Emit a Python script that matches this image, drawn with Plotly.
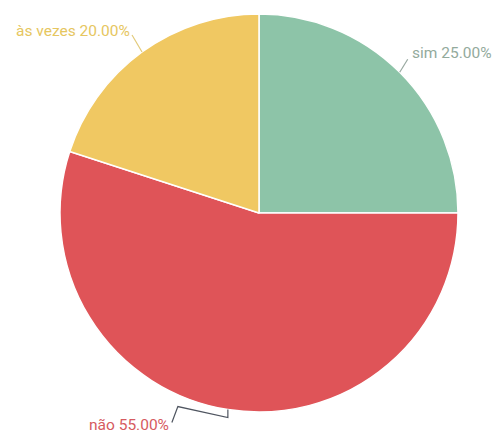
import math
import plotly.graph_objects as go

# Survey answers and their shares (percent)
labels = ["sim", "não", "às vezes"]
values = [25, 55, 20]
colors = ["#8dc4a8", "#df5458", "#f0c862"]
text_colors = ["#93aa9c", "#d65a60", "#e6c660"]
line_colors = ["#98a8a0", "#4f5560", "#e2ca7a"]

W, H = 493, 434
CX, CY, R = 259, 213, 199

# leader-line bends (pixel offsets from the slice's outer midpoint) and label offset from the last bend
leader_bends = [
    [(0, 0), (8, -13)],
    [(0, 0), (0, 8), (-50, -3), (-56, 13)],
    [(0, 0), (-10, -17)],
]
label_offsets = [(2, -6, "left"), (-1, 2, "right"), (0, -4, "right")]


def px(x):
    return x / W


def py(y):
    return 1 - y / H


fig = go.Figure(
    go.Pie(
        labels=labels,
        values=values,
        sort=False,
        direction="clockwise",
        rotation=0,
        marker=dict(colors=colors, line=dict(color="#ffffff", width=1.5)),
        textinfo="none",
        hoverinfo="label+percent",
        showlegend=False,
        domain=dict(x=[px(CX - R), px(CX + R)], y=[py(CY + R), py(CY - R)]),
    )
)

total = sum(values)
cum = 0
shapes, annotations = [], []
for i, (lab, v) in enumerate(zip(labels, values)):
    mid = 2 * math.pi * (cum + v / 2) / total
    cum += v
    ex = CX + R * math.sin(mid)
    ey = CY - R * math.cos(mid)
    pts = [(ex + dx, ey + dy) for dx, dy in leader_bends[i]]
    path = "M " + " L ".join(f"{px(x):.5f},{py(y):.5f}" for x, y in pts)
    shapes.append(dict(type="path", path=path, xref="paper", yref="paper",
                       line=dict(color=line_colors[i], width=1.2)))
    lx, ly = pts[-1]
    ox, oy, anchor = label_offsets[i]
    annotations.append(dict(
        x=px(lx + ox), y=py(ly + oy), xref="paper", yref="paper",
        text=f"{lab} {100 * v / total:.2f}%", showarrow=False,
        xanchor=anchor, yanchor="middle",
        font=dict(family="Roboto", size=15.5, color=text_colors[i]),
    ))

fig.update_layout(
    width=W, height=H,
    margin=dict(l=0, r=0, t=0, b=0),
    paper_bgcolor="#ffffff",
    plot_bgcolor="#ffffff",
    shapes=shapes,
    annotations=annotations,
)

fig.write_html("out.html")
